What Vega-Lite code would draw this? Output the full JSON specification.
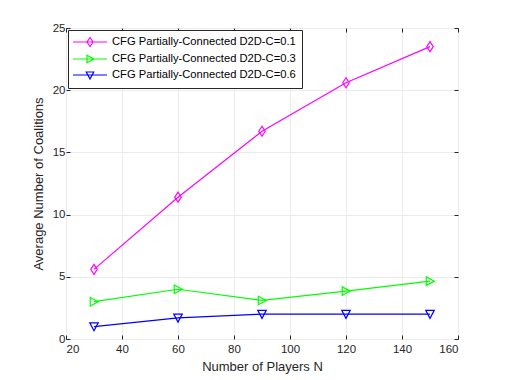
{
  "$schema": "https://vega.github.io/schema/vega-lite/v6.json",
  "width": 392,
  "height": 311,
  "autosize": {"type": "none"},
  "padding": {"left": 66, "top": 28, "right": 49, "bottom": 41},
  "background": "white",
  "config": {
    "font": "Liberation Sans",
    "view": {"stroke": "#262626", "strokeWidth": 1},
    "axis": {
      "grid": true,
      "gridColor": "#ebebeb",
      "gridWidth": 1,
      "domain": false,
      "tickColor": "#262626",
      "tickSize": -4,
      "labelFontSize": 11.5,
      "labelColor": "#262626",
      "titleFontSize": 13,
      "titleFontWeight": "normal",
      "titleColor": "#262626"
    },
    "legend": {
      "orient": "top-left",
      "offset": 2,
      "padding": 6,
      "strokeColor": "#262626",
      "fillColor": "white",
      "labelFontSize": 11.2,
      "labelColor": "#000000",
      "labelLimit": 400,
      "rowPadding": 3,
      "symbolSize": 100,
      "symbolStrokeWidth": 1.2,
      "symbolOffset": 10,
      "labelOffset": 16
    }
  },
  "data": {
    "values": [
      {"n": 30, "v": 5.6, "s": "CFG Partially-Connected D2D-C=0.1"},
      {"n": 60, "v": 11.4, "s": "CFG Partially-Connected D2D-C=0.1"},
      {"n": 90, "v": 16.7, "s": "CFG Partially-Connected D2D-C=0.1"},
      {"n": 120, "v": 20.6, "s": "CFG Partially-Connected D2D-C=0.1"},
      {"n": 150, "v": 23.5, "s": "CFG Partially-Connected D2D-C=0.1"},
      {"n": 30, "v": 3.0, "s": "CFG Partially-Connected D2D-C=0.3"},
      {"n": 60, "v": 4.0, "s": "CFG Partially-Connected D2D-C=0.3"},
      {"n": 90, "v": 3.1, "s": "CFG Partially-Connected D2D-C=0.3"},
      {"n": 120, "v": 3.85, "s": "CFG Partially-Connected D2D-C=0.3"},
      {"n": 150, "v": 4.65, "s": "CFG Partially-Connected D2D-C=0.3"},
      {"n": 30, "v": 1.0, "s": "CFG Partially-Connected D2D-C=0.6"},
      {"n": 60, "v": 1.7, "s": "CFG Partially-Connected D2D-C=0.6"},
      {"n": 90, "v": 2.0, "s": "CFG Partially-Connected D2D-C=0.6"},
      {"n": 120, "v": 2.0, "s": "CFG Partially-Connected D2D-C=0.6"},
      {"n": 150, "v": 2.0, "s": "CFG Partially-Connected D2D-C=0.6"}
    ]
  },
  "layer": [
    {
      "mark": {"type": "line", "strokeWidth": 1.2},
      "encoding": {
        "x": {"field": "n", "type": "quantitative", "scale": {"domain": [20, 160], "nice": false, "zero": false},
              "axis": {"values": [20, 40, 60, 80, 100, 120, 140, 160], "title": "Number of Players N", "labelPadding": 8, "titlePadding": 6}},
        "y": {"field": "v", "type": "quantitative", "scale": {"domain": [0, 25], "nice": false},
              "axis": {"values": [0, 5, 10, 15, 20, 25], "title": "Average Number of Coalitions", "labelPadding": 5, "titlePadding": 7}},
        "stroke": {"field": "s", "type": "nominal", "legend": null,
                   "scale": {"range": ["#ff00ff", "#00ff00", "#0000ff"]}}
      }
    },
    {
      "transform": [{"filter": "datum.s == 'CFG Partially-Connected D2D-C=0.1'"}],
      "mark": {"type": "point", "filled": false, "strokeWidth": 1.2, "size": 100, "opacity": 1, "shape": "M0,-1L0.65,0L0,1L-0.65,0Z"},
      "encoding": {
        "x": {"field": "n", "type": "quantitative", "axis": null},
        "y": {"field": "v", "type": "quantitative", "axis": null},
        "stroke": {"field": "s", "type": "nominal", "legend": null}
      }
    },
    {
      "transform": [{"filter": "datum.s == 'CFG Partially-Connected D2D-C=0.3'"}],
      "mark": {"type": "point", "filled": false, "strokeWidth": 1.2, "size": 100, "opacity": 1, "shape": "M-0.75,-0.85L0.85,0L-0.75,0.85Z"},
      "encoding": {
        "x": {"field": "n", "type": "quantitative", "axis": null},
        "y": {"field": "v", "type": "quantitative", "axis": null},
        "stroke": {"field": "s", "type": "nominal", "legend": null}
      }
    },
    {
      "transform": [{"filter": "datum.s == 'CFG Partially-Connected D2D-C=0.6'"}],
      "mark": {"type": "point", "filled": false, "strokeWidth": 1.2, "size": 100, "opacity": 1, "shape": "M-0.85,-0.75L0.85,-0.75L0,0.85Z"},
      "encoding": {
        "x": {"field": "n", "type": "quantitative", "axis": null},
        "y": {"field": "v", "type": "quantitative", "axis": null},
        "stroke": {"field": "s", "type": "nominal", "legend": null}
      }
    },
    {
      "mark": {"type": "point", "filled": false, "strokeWidth": 1.2, "size": 100, "opacity": 0},
      "encoding": {
        "x": {"field": "n", "type": "quantitative",
              "axis": {"orient": "top", "labels": false, "title": null, "grid": false, "values": [20, 40, 60, 80, 100, 120, 140, 160]}},
        "y": {"field": "v", "type": "quantitative",
              "axis": {"orient": "right", "labels": false, "title": null, "grid": false, "values": [0, 5, 10, 15, 20, 25]}},
        "color": {"field": "s", "type": "nominal", "title": null,
                  "scale": {"range": ["#ff00ff", "#00ff00", "#0000ff"]}},
        "shape": {"field": "s", "type": "nominal", "title": null,
                  "scale": {"range": ["M-3.4,0H3.4M0,-0.9L0.6,0L0,0.9L-0.6,0Z", "M-3.4,0H3.4M-0.6,-0.75L0.8,0L-0.6,0.75Z", "M-3.4,0H3.4M-0.75,-0.6L0.75,-0.6L0,0.8Z"]}}
      }
    }
  ],
  "resolve": {"axis": {"x": "independent", "y": "independent"}}
}
